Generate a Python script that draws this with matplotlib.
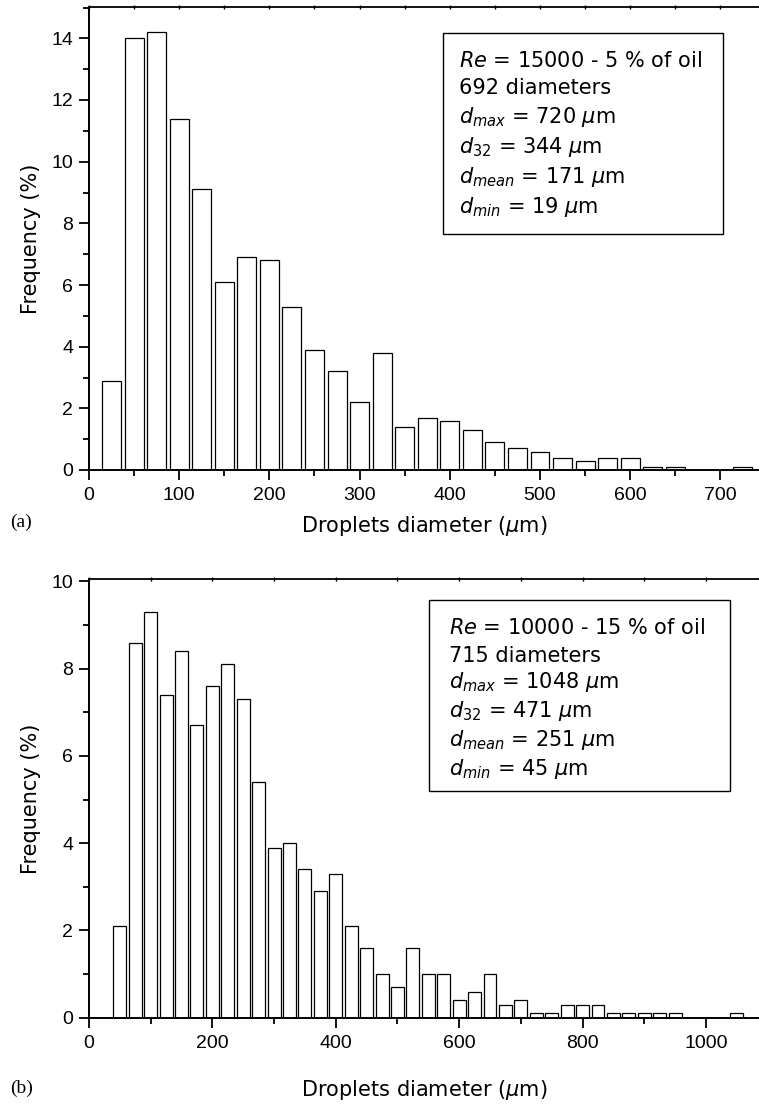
import numpy as np
import matplotlib
matplotlib.use("Agg")
import matplotlib.pyplot as plt
from matplotlib.ticker import MultipleLocator
from matplotlib.patches import Rectangle

plt.rcParams['font.family'] = ['Liberation Sans', 'DejaVu Sans']
plt.rcParams['mathtext.fontset'] = 'dejavusans'
TXT = ['DejaVu Sans']

# (a) Re = 15000, 5 % oil
centers_a = [25, 50, 75, 100, 125, 150, 175, 200, 225, 250, 275, 300, 325, 350, 375,
             400, 425, 450, 475, 500, 525, 550, 575, 600, 625, 650, 675, 700, 725]
freq_a = [2.9, 14.0, 14.2, 11.4, 9.1, 6.1, 6.9, 6.8, 5.3, 3.9, 3.2, 2.2, 3.8, 1.4, 1.7,
          1.6, 1.3, 0.9, 0.7, 0.6, 0.4, 0.3, 0.4, 0.4, 0.1, 0.1, 0.0, 0.0, 0.1]
text_a = [r"$\mathit{Re}$ = 15000 - 5 % of oil",
          "692 diameters",
          r"$d_{max}$ = 720 $\mathit{\mu}$m",
          r"$d_{\mathit{32}}$ = 344 $\mathit{\mu}$m",
          r"$d_{mean}$ = 171 $\mathit{\mu}$m",
          r"$d_{min}$ = 19 $\mathit{\mu}$m"]

# (b) Re = 10000, 15 % oil
centers_b = [50, 75, 100, 125, 150, 175, 200, 225, 250, 275, 300, 325, 350, 375, 400,
             425, 450, 475, 500, 525, 550, 575, 600, 625, 650, 675, 700, 725, 750, 775,
             800, 825, 850, 875, 900, 925, 950, 975, 1000, 1025, 1050]
freq_b = [2.1, 8.6, 9.3, 7.4, 8.4, 6.7, 7.6, 8.1, 7.3, 5.4, 3.9, 4.0, 3.4, 2.9, 3.3,
          2.1, 1.6, 1.0, 0.7, 1.6, 1.0, 1.0, 0.4, 0.6, 1.0, 0.3, 0.4, 0.1, 0.1, 0.3,
          0.3, 0.3, 0.1, 0.1, 0.1, 0.1, 0.1, 0.0, 0.0, 0.0, 0.1]
text_b = [r"$\mathit{Re}$ = 10000 - 15 % of oil",
          "715 diameters",
          r"$d_{max}$ = 1048 $\mathit{\mu}$m",
          r"$d_{\mathit{32}}$ = 471 $\mathit{\mu}$m",
          r"$d_{mean}$ = 251 $\mathit{\mu}$m",
          r"$d_{min}$ = 45 $\mathit{\mu}$m"]

W, H = 759, 1108
fig = plt.figure(figsize=(W / 100, H / 100), dpi=100)


def panel(ax, centers, freq, xmax, ymax, xmaj, xmin_, lines, box, tx, ty):
    ax.bar(centers, freq, width=21, color='white', edgecolor='black', linewidth=0.9, zorder=2)
    ax.set_xlim(0, xmax)
    ax.set_ylim(0, ymax)
    ax.xaxis.set_major_locator(MultipleLocator(xmaj))
    ax.xaxis.set_minor_locator(MultipleLocator(xmin_))
    ax.yaxis.set_major_locator(MultipleLocator(2))
    ax.yaxis.set_minor_locator(MultipleLocator(1))
    for s in ['left', 'bottom']:
        ax.spines[s].set_linewidth(1.4)
    ax.spines['right'].set_visible(False)
    ax.spines['top'].set_visible(False)
    ax.tick_params(axis='both', which='major', direction='out', length=7.5, width=1.3,
                   labelsize=14, top=False, right=False)
    ax.tick_params(axis='both', which='minor', direction='out', length=4, width=1.3,
                   top=False, right=False)
    ax.tick_params(axis='x', which='major', pad=5)
    ax.tick_params(axis='y', which='major', pad=4)
    # top spine with tiny marks
    sec = ax.secondary_xaxis('top')
    sec.xaxis.set_major_locator(MultipleLocator(xmin_))
    sec.tick_params(direction='inout', length=2.5, width=1.0, labeltop=False)
    sec.spines['top'].set_linewidth(1.3)
    ax.set_xlabel(r"Droplets diameter ($\mathit{\mu}$m)", fontsize=15, family=TXT)
    ax.set_ylabel("Frequency (%)", fontsize=15, family=TXT)
    ax.yaxis.set_label_coords(-0.072, 0.5)
    x0, y0, x1, y1 = box
    ax.add_patch(Rectangle((x0, y0), x1 - x0, y1 - y0, transform=ax.transAxes,
                           facecolor='white', edgecolor='black', linewidth=1.0, zorder=3))
    for t, y in zip(lines, ty):
        ax.text(tx, y, t, transform=ax.transAxes, fontsize=15, family=TXT,
                va='baseline', ha='left', zorder=4)


ax1 = fig.add_axes([89 / W, (H - 470) / H, 670 / W, 462.5 / H])
panel(ax1, centers_a, freq_a, 742.8, 15, 100, 50, text_a,
      (0.5288, 0.5096, 0.9467, 0.9455), 0.5522,
      [0.8720, 0.8123, 0.7509, 0.6861, 0.6212, 0.5550])
ax1.xaxis.set_label_coords(0.5, -0.095)

ax2 = fig.add_axes([89 / W, (H - 1017.7) / H, 670 / W, 438.4 / H])
panel(ax2, centers_b, freq_b, 1086, 10.05, 200, 100, text_b,
      (0.5075, 0.5171, 0.9567, 0.9528), 0.5373,
      [0.8745, 0.8120, 0.7514, 0.6866, 0.6198, 0.5536])
ax2.xaxis.set_label_coords(0.5, -0.138)

fig.text(10 / W, 1 - 522 / H, "(a)", family=['Liberation Serif', 'DejaVu Serif'],
         fontsize=14, va='center', ha='left')
fig.text(10 / W, 1 - 1088 / H, "(b)", family=['Liberation Serif', 'DejaVu Serif'],
         fontsize=14, va='center', ha='left')

fig.savefig("out.png", dpi=100)
